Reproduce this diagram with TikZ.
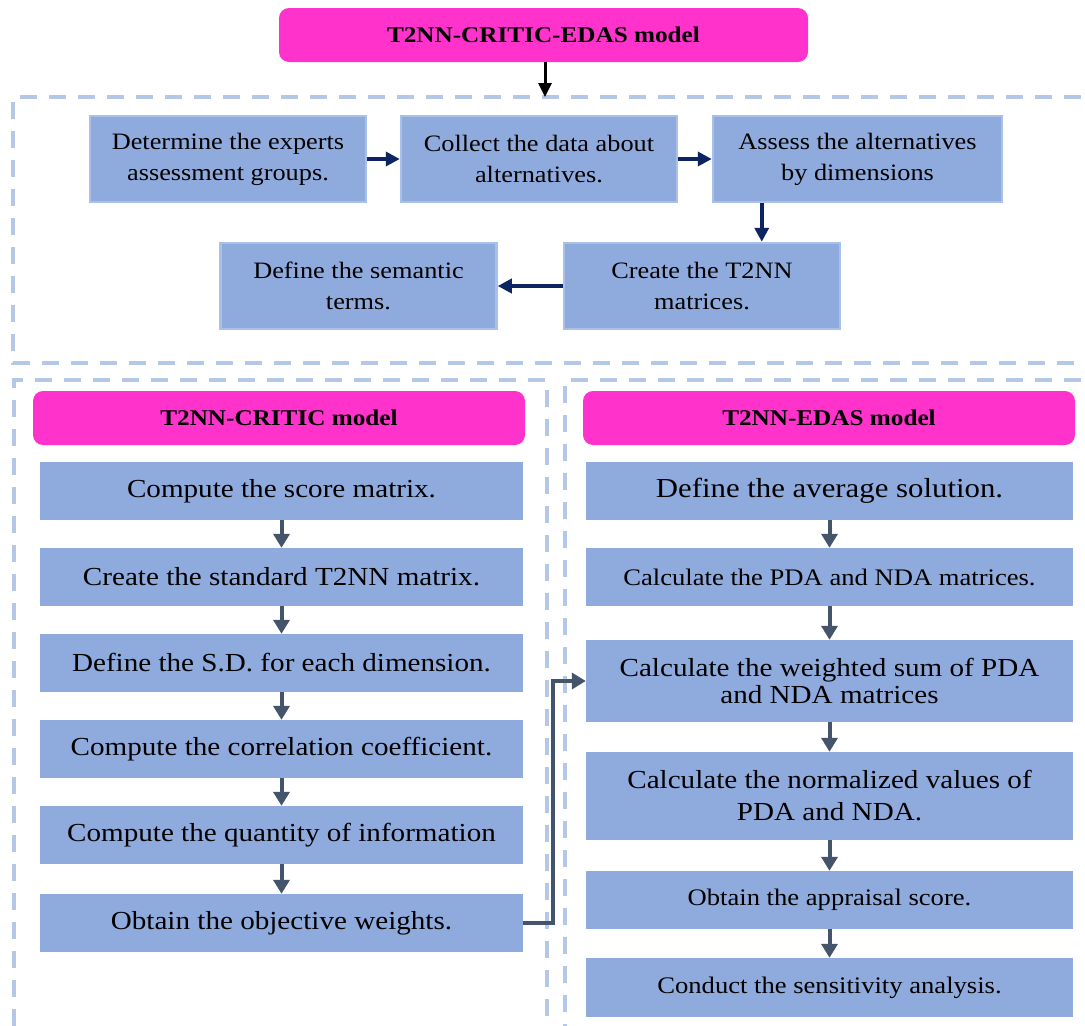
\documentclass[tikz,border=0pt]{standalone}
\usepackage{fontspec}
\setmainfont[FakeStretch=1.12]{Liberation Serif}
\usetikzlibrary{arrows.meta}
\definecolor{pinkc}{HTML}{FF33CC}
\definecolor{boxc}{HTML}{8FAADC}
\definecolor{boxb}{HTML}{A9C1E8}
\definecolor{dashc}{HTML}{B4C7E7}
\definecolor{navyc}{HTML}{0C2461}
\definecolor{slatec}{HTML}{44546A}
\newcommand\fonttop{\fontsize{23.5}{31}\selectfont}
\newcommand\fontbig{\fontsize{26}{32}\selectfont}
\newcommand\fontsmall{\fontsize{23.75}{27}\selectfont}
\newcommand\fonttitle{\bfseries\fontsize{22.5}{25}\selectfont}
\begin{document}
\begin{tikzpicture}[x=1pt,y=-1pt,
  pinkbox/.style={fill=pinkc, rounded corners=10pt, inner sep=0pt, align=center, font=\fonttitle},
  stepbox/.style={fill=boxc, draw=boxb, line width=2.5pt, inner sep=0pt, align=center, font=\fonttop, minimum width=276pt, minimum height=86pt},
  flowbox/.style={fill=boxc, inner sep=0pt, align=center, font=\fontbig},
  dashbox/.style={draw=dashc, line width=3.2pt, dash pattern=on 17pt off 12pt},
  navyarrow/.style={draw=navyc, line width=4pt, -{Triangle[length=14pt,width=14pt]}},
  slatearrow/.style={draw=slatec, line width=4pt, -{Triangle[length=14pt,width=16pt]}},
  blackarrow/.style={draw=black, line width=3pt, -{Triangle[length=14pt,width=13pt]}}]
\useasboundingbox (0,0) rectangle (1085,1026);
\fill[white] (0,0) rectangle (1085,1026);

% dashed frames
\draw[dashbox] (1110,97) -- (13,97) -- (13,363) -- (1110,363);
\draw[dashbox] (547,1045) -- (547,380) -- (14,380) -- (14,1045);
\draw[dashbox] (1110,380) -- (565,380) -- (565,1045);

% top section
\node[pinkbox, minimum width=529pt, minimum height=54pt] (title) at (543.5,35) {T2NN-CRITIC-EDAS model};
\coordinate (topin) at (545,97);

\node[stepbox] (b1) at (228,159) {Determine the experts\\assessment groups.};
\node[stepbox] (b2) at (539,159) {Collect the data about\\alternatives.};
\node[stepbox, minimum width=289pt] (b3) at (857.5,159) {Assess the alternatives\\by dimensions};
\node[stepbox] (b5) at (702,286) {Create the T2NN\\matrices.};
\node[stepbox] (b4) at (358.5,286) {Define the semantic\\terms.};
\coordinate (b3d) at ([xshift=50pt]b3.south west);

\draw[blackarrow] (545,62) -- (topin);
\draw[navyarrow] (b1) -- (b2);
\draw[navyarrow] (b2) -- (b3);
\draw[navyarrow] (b3d) -- (b3d |- b5.north);
\draw[navyarrow] (b5) -- (b4);

% left column
\node[pinkbox, minimum width=492pt, minimum height=54pt] (lt) at (279,418) {T2NN-CRITIC model};
\begin{scope}[every node/.style={flowbox, minimum width=483pt, minimum height=58pt}]
\node (l1) at (281.5,491) {Compute the score matrix.};
\node (l2) at (281.5,577) {Create the standard T2NN matrix.};
\node (l3) at (281.5,663) {Define the S.D. for each dimension.};
\node (l4) at (281.5,749) {Compute the correlation coefficient.};
\node (l5) at (281.5,835) {Compute the quantity of information};
\node (l6) at (281.5,923) {Obtain the objective weights.};
\end{scope}
\foreach \a/\b in {l1/l2,l2/l3,l3/l4,l4/l5,l5/l6}
  \draw[slatearrow] (\a.south) -- (\b.north);

% right column
\node[pinkbox, minimum width=492pt, minimum height=54pt] (rt) at (829,418) {T2NN-EDAS model};
\begin{scope}[every node/.style={flowbox, minimum width=487pt}]
\node[minimum height=58pt, font=\fontsize{27.5}{32}\selectfont] (r1) at (829.5,491) {Define the average solution.};
\node[minimum height=58pt, font=\fontsmall] (r2) at (829.5,577) {Calculate the PDA and NDA matrices.};
\node[minimum height=82pt, font=\fontsize{26}{27}\selectfont] (r3) at (829.5,681) {Calculate the weighted sum of PDA\\and NDA matrices};
\node[minimum height=88pt] (r4) at (829.5,796) {Calculate the normalized values of\\PDA and NDA.};
\node[minimum height=58pt, font=\fontsmall] (r5) at (829.5,900) {Obtain the appraisal score.};
\node[minimum height=59pt, font=\fontsmall] (r6) at (829.5,987.5) {Conduct the sensitivity analysis.};
\end{scope}
\foreach \a/\b in {r1/r2,r2/r3,r3/r4,r4/r5,r5/r6}
  \draw[slatearrow] (\a.south) -- (\b.north);

\draw[slatearrow] (l6.east) -- ++(30,0) |- (r3.west);
\end{tikzpicture}
\end{document}
